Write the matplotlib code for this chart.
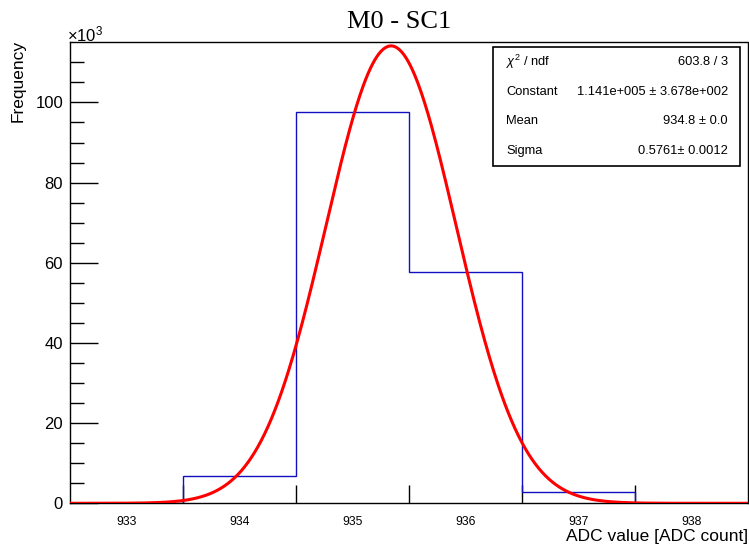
import numpy as np
import matplotlib
matplotlib.use("Agg")
import matplotlib.pyplot as plt

# ---- data ----
bin_edges = [932.5, 933.5, 934.5, 935.5, 936.5, 937.5, 938.5]
bin_counts_k = [0.0, 6.9, 97.6, 57.7, 2.8, 0.0]   # in units of 10^3
x_tick_labels = [933, 934, 935, 936, 937, 938]
fit_constant_k = 114.1      # 1.141e+005
fit_center = 935.34         # centre of drawn curve in axis units
fit_sigma = 0.5761

stat_names = ["$\\chi^{2}$ / ndf", "Constant", "Mean", "Sigma"]
stat_values = ["603.8 / 3", "1.141e+005 \u00b1 3.678e+002", "934.8 \u00b1 0.0", "0.5761\u00b1 0.0012"]

plt.rcParams['font.family'] = ['Liberation Sans', 'DejaVu Sans']
plt.rcParams['mathtext.fontset'] = 'custom'
plt.rcParams['mathtext.rm'] = 'Liberation Sans'
plt.rcParams['mathtext.it'] = 'Liberation Sans:italic'

W, H = 749, 547
fig = plt.figure(figsize=(W / 100, H / 100), dpi=100)
L, R, B, T = 70, 748.3, 503.3, 42.3
ax = fig.add_axes([L / W, 1 - B / H, (R - L) / W, (B - T) / H])

# histogram
ax.stairs(bin_counts_k, bin_edges, color='#1010c0', linewidth=1.0, zorder=2)
# fit
xs = np.linspace(932.5, 938.5, 600)
ys = fit_constant_k * np.exp(-0.5 * ((xs - fit_center) / fit_sigma) ** 2)
ax.plot(xs, ys, color='#ff0000', linewidth=2.2, zorder=3)

ax.set_xlim(932.5, 938.5)
ax.set_ylim(0, 115)

for s in ['top', 'right']:
    ax.spines[s].set_visible(False)
for s in ['left', 'bottom']:
    ax.spines[s].set_linewidth(1.0)
# frame top/right lines
ax.plot([0, 1, 1], [1, 1, 0], transform=ax.transAxes, color='black', linewidth=1.0, clip_on=False)

# x ticks: labels at integers (no marks), marks at bin edges
ax.set_xticks(x_tick_labels)
ax.set_xticklabels([str(v) for v in x_tick_labels])
ax.set_xticks(bin_edges[1:-1], minor=True)
ax.tick_params(axis='x', which='major', length=0, pad=9, labelsize=8.8)
ax.tick_params(axis='x', which='minor', direction='in', length=13, width=1.0)

# y ticks
ax.set_yticks([0, 20, 40, 60, 80, 100])
ax.set_yticks(np.arange(0, 115, 5), minor=True)
ax.tick_params(axis='y', which='major', direction='in', length=20, width=1.0, labelsize=12, pad=5)
ax.tick_params(axis='y', which='minor', direction='in', length=10, width=1.0)

# labels
fig.text(18 / W, 1 - 40 / H, "Frequency", rotation=90, ha='center', va='top', fontsize=12.5)
fig.text(748 / W, 1 - 536 / H, "ADC value [ADC count]", ha='right', va='center', fontsize=12.5)
fig.text(67 / W, 1 - 41 / H, "\u00d710$^{3}$", ha='left', va='baseline', fontsize=12)
fig.text(399 / W, 1 - 22 / H, "M0 - SC1", ha='center', va='center', fontsize=19,
         family='Liberation Serif')

# stats box
bx0, bx1, by0, by1 = 493, 740, 47, 166
fig.patches.append(plt.Rectangle((bx0 / W, 1 - by1 / H), (bx1 - bx0) / W, (by1 - by0) / H,
                                 transform=fig.transFigure, fill=True, facecolor='white',
                                 edgecolor='black', linewidth=1.2, zorder=5))
row_h = (by1 - by0) / len(stat_names)
for i, (n, v) in enumerate(zip(stat_names, stat_values)):
    yc = by0 + row_h * (i + 0.5)
    fig.text(506 / W, 1 - yc / H, n, ha='left', va='center', fontsize=9.3, zorder=6)
    fig.text(728 / W, 1 - yc / H, v, ha='right', va='center', fontsize=9.3, zorder=6)

fig.savefig("out.png", dpi=100)
